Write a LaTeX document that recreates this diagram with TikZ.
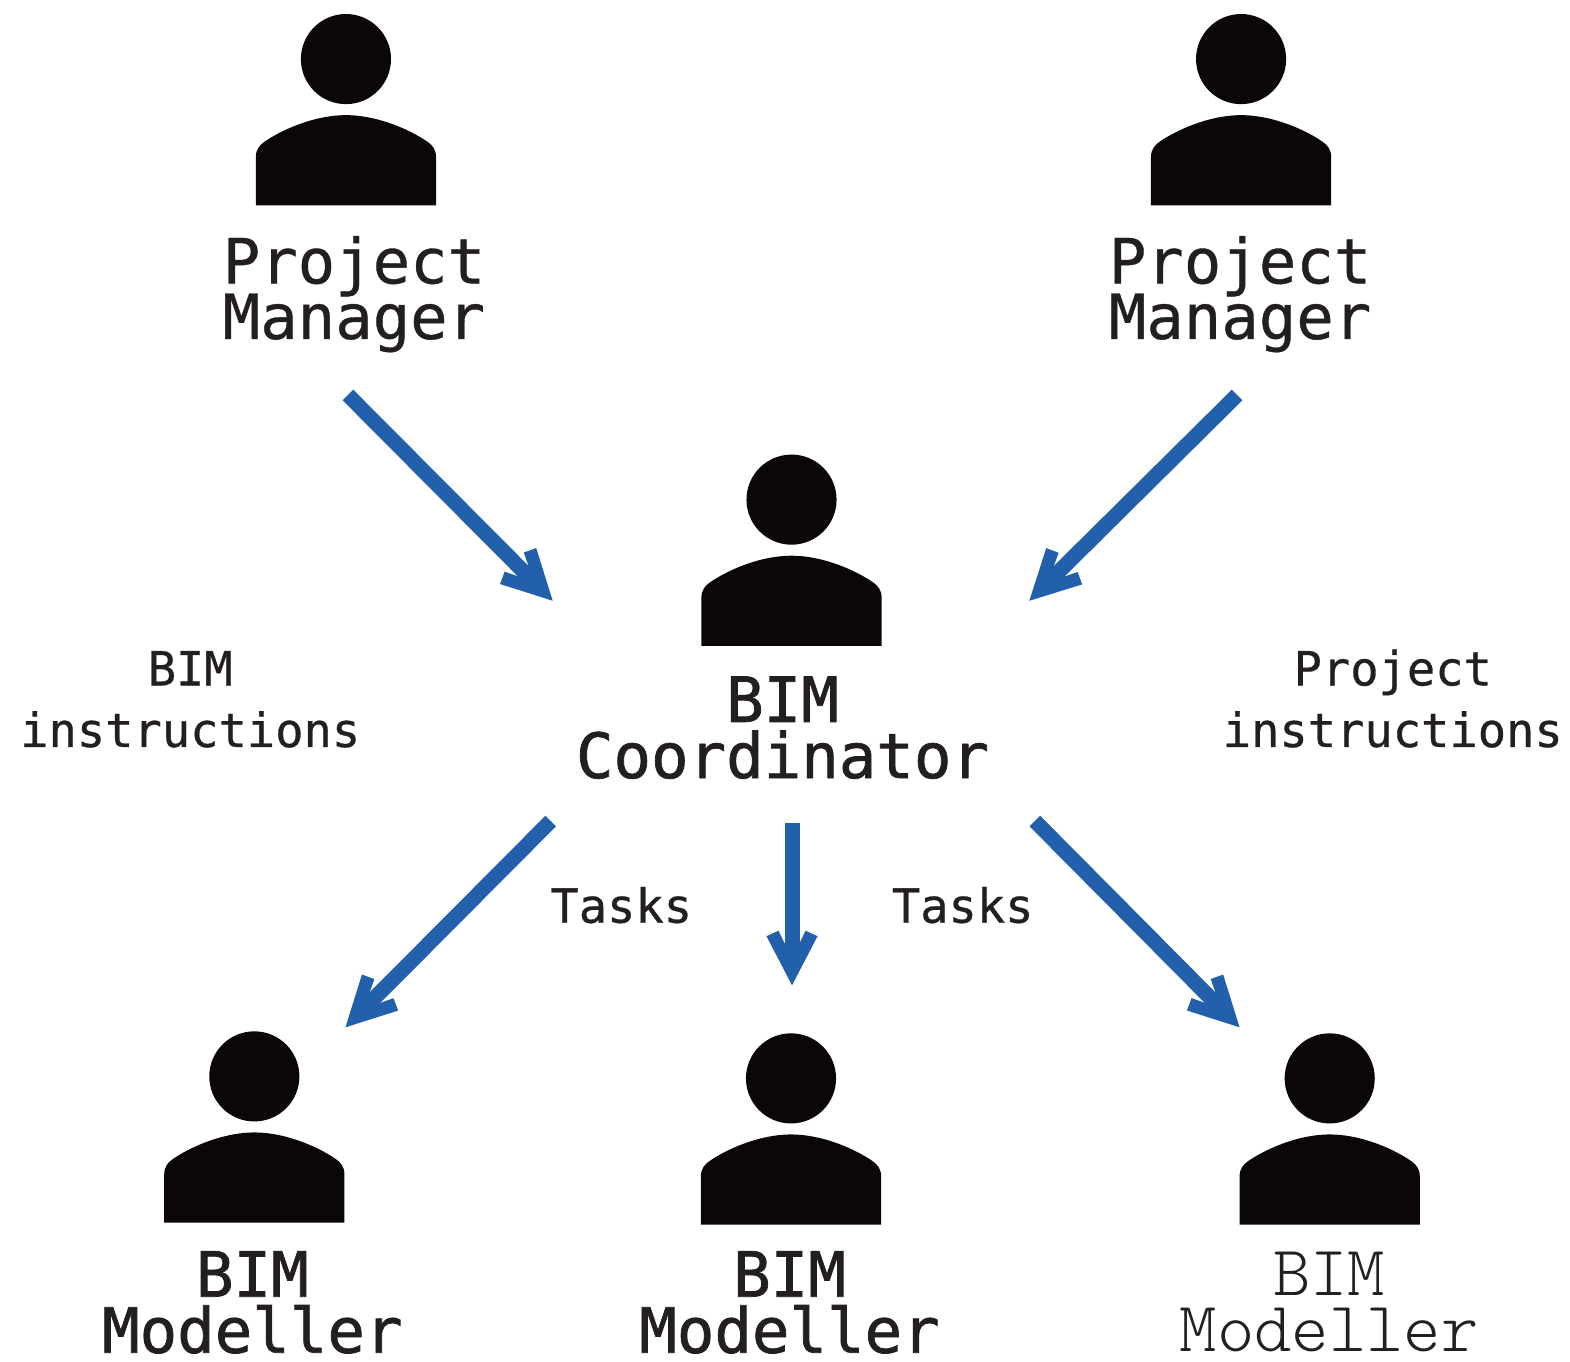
\documentclass[tikz,border=0pt]{standalone}
\usepackage{fontspec}
\usetikzlibrary{arrows.meta}
\newfontfamily\medmono[FakeBold=0.6]{DejaVu Sans Mono}
\newfontfamily\heavymono[FakeBold=1.2]{DejaVu Sans Mono}
\newfontfamily\lightmono{Latin Modern Mono Light}
\definecolor{ink}{HTML}{231F20}
\definecolor{iconblack}{HTML}{0A0706}
\definecolor{arrowblue}{HTML}{2360AC}
\AtBeginDocument{\lineskiplimit=-100pt\relax}
\pgfdeclarearrow{
  name=BarbHead,
  setup code={
    \pgfarrowssettipend{0pt}
    \pgfarrowssetlineend{-35pt}
    \pgfarrowssetvisualbackend{-54pt}
    \pgfarrowssetbackend{-54pt}
    \pgfarrowshullpoint{0pt}{0pt}
    \pgfarrowshullpoint{-54pt}{25pt}
    \pgfarrowshullpoint{-54pt}{-25pt}
  },
  drawing code={
    \pgfsetfillcolor{arrowblue}
    \pgfpathmoveto{\pgfqpoint{0pt}{0pt}}
    \pgfpathlineto{\pgfqpoint{-49pt}{25.5pt}}
    \pgfpathlineto{\pgfqpoint{-54.5pt}{13.5pt}}
    \pgfpathlineto{\pgfqpoint{-42pt}{7.5pt}}
    \pgfpathlineto{\pgfqpoint{-42pt}{-7.5pt}}
    \pgfpathlineto{\pgfqpoint{-54.5pt}{-13.5pt}}
    \pgfpathlineto{\pgfqpoint{-49pt}{-25.5pt}}
    \pgfpathclose
    \pgfusepathqfill
  }
}
\tikzset{
  personicon/.pic={
    \fill[iconblack] (0,0) circle[radius=45];
    \fill[iconblack] (-90,146) -- (-90,98)
      .. controls (-90,90) and (-86,86) .. (-82,83)
      .. controls (-65,71) and (-32,56) .. (0,56)
      .. controls (32,56) and (65,71) .. (82,83)
      .. controls (86,86) and (90,90) .. (90,98)
      -- (90,146) -- cycle;
  },
  biglabel/.style={anchor=base, align=center, inner sep=0pt, text=ink,
    font=\medmono\fontsize{62.2}{55.5}\selectfont},
  heavylabel/.style={anchor=base, align=center, inner sep=0pt, text=ink,
    font=\heavymono\fontsize{62.3}{56}\selectfont},
  lightlabel/.style={anchor=base, align=center, inner sep=0pt, text=ink,
    font=\lightmono\fontsize{71}{56}\selectfont},
  smalllabel/.style={anchor=base, align=center, inner sep=0pt, text=ink,
    font=\medmono\fontsize{47}{61.5}\selectfont},
  flowarrow/.style={draw=arrowblue, line width=15pt, -{BarbHead}},
}
\begin{document}
\begin{tikzpicture}[x=1pt,y=-1pt]
\useasboundingbox (0,0) rectangle (1568,1360);
\pic at (345.5,59) {personicon};
\pic at (1239.5,59) {personicon};
\pic at (790.5,499) {personicon};
\pic at (254,1075) {personicon};
\pic at (790,1077) {personicon};
\pic at (1328,1077) {personicon};

\node[biglabel] (pmleft) at (353.5,338.5) {Project\\Manager};
\node[biglabel] (pmright) at (1238.5,338.5) {Project\\Manager};
\node[heavylabel] (coord) at (781.5,777) {BIM\\Coordinator};
\node[heavylabel] (modleft) at (252,1351) {BIM\\Modeller};
\node[heavylabel] (modmid) at (788.5,1351) {BIM\\Modeller};
\node[lightlabel] (modright) at (1327.5,1350) {BIM\\Modeller};
\node[smalllabel] (biminstr) at (190,746) {BIM\\instructions};
\node[smalllabel] (prjinstr) at (1391,746) {Project\\instructions};
\node[smalllabel] (taskleft) at (620.5,921.5) {Tasks};
\node[smalllabel] (taskright) at (961.5,921.5) {Tasks};

\coordinate (aS) at (347.5,394.5);
\coordinate (aE) at (552,600);
\coordinate (bS) at (1235.5,394.5);
\coordinate (bE) at (1028,600);
\coordinate (cS) at (550,820);
\coordinate (cE) at (345,1026);
\coordinate (dS) at (791,822);
\coordinate (dE) at (791,984);
\coordinate (eS) at (1033.5,820);
\coordinate (eE) at (1238,1026);
\draw[flowarrow] (aS) -- (aE);
\draw[flowarrow] (bS) -- (bE);
\draw[flowarrow] (cS) -- (cE);
\draw[flowarrow] (dS) -- (dE);
\draw[flowarrow] (eS) -- (eE);
\end{tikzpicture}
\end{document}
